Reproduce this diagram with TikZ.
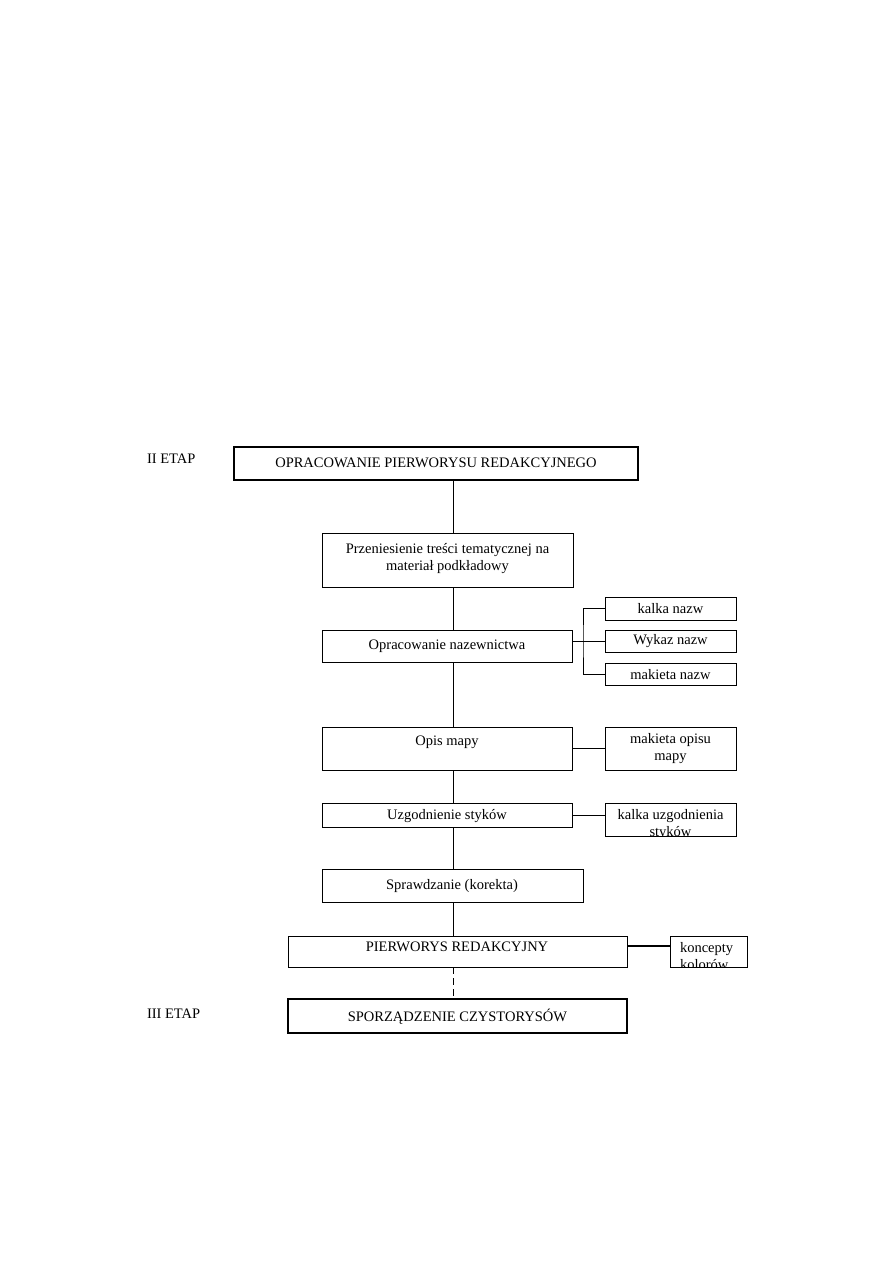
\documentclass[tikz,border=0pt]{standalone}
\usepackage{fontspec}
\setmainfont{Liberation Serif}
\begin{document}
\begin{tikzpicture}[x=1pt,y=-1pt,
  every node/.style={inner sep=0pt,outer sep=0pt},
  box/.style={draw,line width=0.9pt,rectangle,anchor=north west},
  tbox/.style={draw,line width=1.8pt,rectangle,anchor=north west},
  txt/.style={font=\fontsize{14.5}{17}\selectfont,align=center},
  ln/.style={line width=0.9pt},
  thk/.style={line width=1.8pt}]
\useasboundingbox (0,0) rectangle (893,1263);
% top box
\node[tbox,minimum width=404,minimum height=33] (top) at (234,447) {};
\node[txt] (topt) at (436,463) {OPRACOWANIE PIERWORYSU REDAKCYJNEGO};
\node[txt,anchor=west] (etap2) at (147,459) {II ETAP};
% przeniesienie
\node[box,minimum width=251,minimum height=54] (prz) at (322,533) {};
\node[txt] (przt) at (447.5,559) {Przeniesienie treści tematycznej na\\materiał podkładowy};
% nazewnictwo
\node[box,minimum width=250,minimum height=32] (naz) at (322,630) {};
\node[txt] (nazt) at (447,646) {Opracowanie nazewnictwa};
\node[box,minimum width=131,minimum height=23] (k1) at (605,597) {};
\node[txt] (k1t) at (670.5,609) {kalka nazw};
\node[box,minimum width=131,minimum height=22] (k2) at (605,630) {};
\node[txt] (k2t) at (670.5,641.5) {Wykaz nazw};
\node[box,minimum width=131,minimum height=22] (k3) at (605,663) {};
\node[txt] (k3t) at (670.5,674.5) {makieta nazw};
\coordinate (br) at (583,641);
% opis mapy
\node[box,minimum width=250,minimum height=43] (opis) at (322,727) {};
\node[txt] (opist) at (447,742) {Opis mapy};
\node[box,minimum width=131,minimum height=43] (mop) at (605,727) {};
\node[txt] (mopt) at (670.5,749) {makieta opisu\\mapy};
% uzgodnienie
\node[box,minimum width=250,minimum height=24] (uzg) at (322,803) {};
\node[txt] (uzgt) at (447,816) {Uzgodnienie styków};
\node[box,minimum width=131,minimum height=33] (kuz) at (605,803) {};
\begin{scope}
\clip (605,803) rectangle (736,835.5);
\node[txt] (kuzt) at (670.5,825) {kalka uzgodnienia\\styków};
\end{scope}
% sprawdzanie
\node[box,minimum width=261,minimum height=33] (spr) at (322,869) {};
\node[txt] (sprt) at (452,886) {Sprawdzanie (korekta)};
% pierworys
\node[box,minimum width=339,minimum height=31] (pier) at (288,936) {};
\node[txt] (piert) at (457,947) {PIERWORYS REDAKCYJNY};
\node[box,minimum width=77,minimum height=31] (kon) at (670,936) {};
\begin{scope}
\clip (670,936) rectangle (747,966.5);
\node[txt,align=left,anchor=west] (kont) at (680,956) {koncepty\\kolorów};
\end{scope}
% czystorysy
\node[tbox,minimum width=339,minimum height=34] (czy) at (288,999) {};
\node[txt] (czyt) at (457.5,1016.5) {SPORZĄDZENIE CZYSTORYSÓW};
\node[txt,anchor=west] (etap3) at (147,1014) {III ETAP};
% connectors
\draw[ln] (top.south -| 453,0) -- (prz.north -| 453,0);
\draw[ln] (prz.south -| 453,0) -- (naz.north -| 453,0);
\draw[ln] (naz.south -| 453,0) -- (opis.north -| 453,0);
\draw[ln] (opis.south -| 453,0) -- (uzg.north -| 453,0);
\draw[ln] (uzg.south -| 453,0) -- (spr.north -| 453,0);
\draw[ln] (spr.south -| 453,0) -- (pier.north -| 453,0);
\draw[ln,dashed,dash pattern=on 7pt off 4pt] (pier.south -| 453,0) -- (czy.north -| 453,0);
\draw[ln] (naz.east |- k2.west) -- (k2.west);
\draw[ln] (k1.west) -| (br) |- (k3.west);
\draw[ln] (opis.east |- mop.center) -- (mop.west);
\draw[ln] (uzg.east) -- (kuz.west |- uzg.east);
\draw[thk] (pier.east |- 0,946) -- (kon.west |- 0,946);
\end{tikzpicture}
\end{document}
